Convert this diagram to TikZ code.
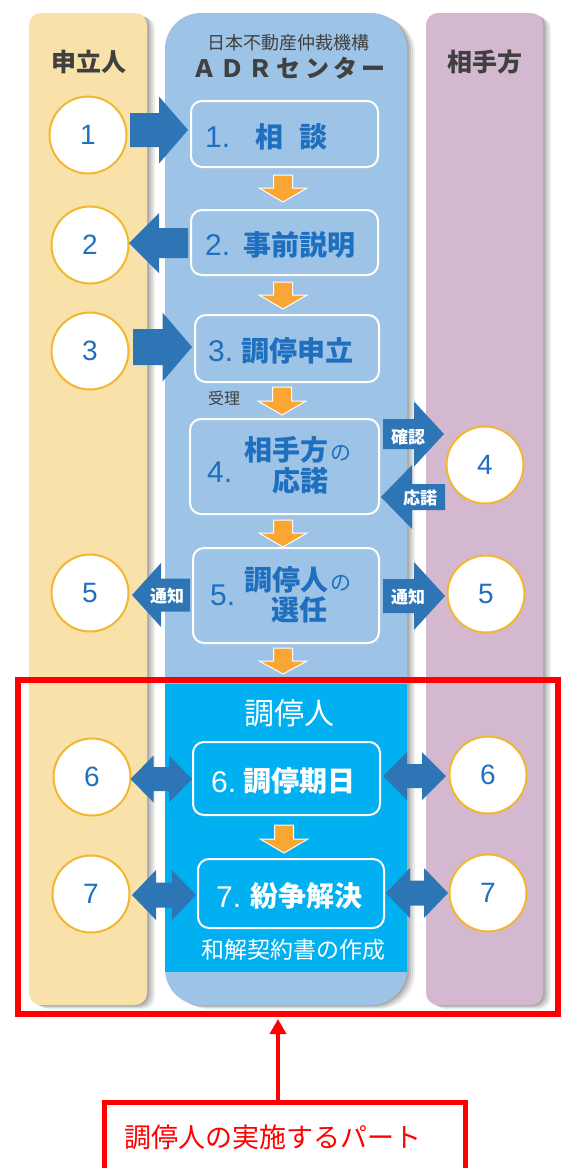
\documentclass[tikz,border=0pt]{standalone}
\usepackage{fontspec}
\setmainfont{Liberation Sans}
\newfontfamily\jp{Noto Sans CJK JP}
\usetikzlibrary{arrows.meta}
\definecolor{colY}{HTML}{F9E2AA}
\definecolor{colB}{HTML}{9DC3E6}
\definecolor{colP}{HTML}{D3B8D0}
\definecolor{colBB}{HTML}{00B0F0}
\definecolor{arrblue}{HTML}{2E75B6}
\definecolor{txtblue}{HTML}{1F6FBF}
\definecolor{numblue}{HTML}{2170C0}
\definecolor{orng}{HTML}{FAA634}
\definecolor{gold}{HTML}{F2B632}
\definecolor{hdrgray}{HTML}{404040}
\tikzset{
  stepbox/.style={draw=white, line width=2pt, rounded corners=11pt, fill=colB, inner sep=0pt},
  circ/.style={circle, draw=gold, line width=2pt, fill=white, minimum size=77pt, inner sep=0pt,
    text=numblue, font=\fontsize{28}{28}\selectfont},
  lbl/.style={inner sep=0pt, text=white, font=\jp\bfseries\fontsize{17}{17}\selectfont},
  ttl/.style={inner sep=0pt, anchor=base west, text=txtblue, font=\jp\bfseries\fontsize{28}{28}\selectfont},
  nol/.style={inner sep=0pt, anchor=base west, text=txtblue, font=\jp\fontsize{21}{21}\selectfont},
  numtxt/.style={inner sep=0pt, anchor=base west, text=txtblue, font=\fontsize{30}{30}\selectfont},
  hdr/.style={inner sep=0pt, text=hdrgray},
}
% block arrow: x0 (tail), x1 (tip), yc, shaft half, head half, head length (signed)
\newcommand\blk[6]{%
  \fill[arrblue] ({#1},{#3-#4}) -- ({#2-#6},{#3-#4}) -- ({#2-#6},{#3-#5}) -- ({#2},{#3})
    -- ({#2-#6},{#3+#5}) -- ({#2-#6},{#3+#4}) -- ({#1},{#3+#4}) -- cycle;}
% double block arrow: x0, x1, yc, shaft half, head half, head length
\newcommand\dblk[6]{%
  \fill[arrblue] ({#1},{#3}) -- ({#1+#6},{#3-#5}) -- ({#1+#6},{#3-#4}) -- ({#2-#6},{#3-#4})
    -- ({#2-#6},{#3-#5}) -- ({#2},{#3}) -- ({#2-#6},{#3+#5}) -- ({#2-#6},{#3+#4})
    -- ({#1+#6},{#3+#4}) -- ({#1+#6},{#3+#5}) -- cycle;}
% orange down arrow: xc, ytop, ybase, ytip
\newcommand\oarr[4]{%
  \filldraw[fill=orng, draw=white, line width=1pt, line join=miter]
    ({#1-9.5},{#2}) -- ({#1+9.5},{#2}) -- ({#1+9.5},{#3}) -- ({#1+24},{#3}) -- ({#1},{#4})
    -- ({#1-24},{#3}) -- ({#1-9.5},{#3}) -- cycle;}
% column with shadow: x0,y0,x1,y1,radius,color
\newcommand\colm[6]{%
  \foreach \s/\o in {8/0.07,6/0.08,4/0.1,2/0.12}{
    \fill[black, opacity=\o, rounded corners=#5pt] ({#1+\s},{#2+0.5*\s}) rectangle ({#3+\s},{#4+0.5*\s});}
  \fill[#6, rounded corners=#5pt] (#1,#2) rectangle (#3,#4);}
\begin{document}
\begin{tikzpicture}[x=1pt,y=-1pt]
\useasboundingbox (0,0) rectangle (560,1168);
\fill[white] (0,0) rectangle (560,1168);

% columns
\colm{29}{13}{147}{1005}{12}{colY}
\colm{165}{13}{407}{1005}{36}{colB}
\colm{426}{13}{543}{1005}{12}{colP}
\fill[colBB] (165,684) rectangle (407,972);

% headers
\node[hdr, font=\jp\bfseries\fontsize{25}{25}\selectfont] (hL) at (89,62) {申立人};
\node[hdr, font=\jp\bfseries\fontsize{25}{25}\selectfont] (hR) at (485,62) {相手方};
\node[hdr, font=\jp\fontsize{18}{18}\selectfont] (hC1) at (288,43) {日本不動産仲裁機構};
\node[hdr, font=\jp\bfseries\fontsize{24}{24}\selectfont] (hC2) at (289,68)
  {\makebox[193pt][s]{Ａ\hfil Ｄ\hfil Ｒ\hfil セ\hfil ン\hfil タ\hfil ー}};

% step boxes
\node[stepbox, minimum width=187pt, minimum height=66pt] (b1) at (284.5,134) {};
\node[stepbox, minimum width=187pt, minimum height=65pt] (b2) at (284.5,242.5) {};
\node[stepbox, minimum width=184pt, minimum height=67pt] (b3) at (287,348.5) {};
\node[stepbox, minimum width=189pt, minimum height=95pt] (b4) at (284.5,466.5) {};
\node[stepbox, minimum width=186pt, minimum height=95pt] (b5) at (286,595.5) {};
\node[stepbox, fill=colBB, minimum width=187pt, minimum height=73pt] (b6) at (286.5,778.5) {};
\node[stepbox, fill=colBB, minimum width=186pt, minimum height=69pt] (b7) at (291,893.5) {};

% box texts
\node[numtxt] (n1) at (205,147) {1.};
\node[ttl] (t1) at (255,147) {相\hspace{16pt}談};
\node[numtxt] (n2) at (205,255) {2.};
\node[ttl] (t2) at (243,255) {事前説明};
\node[numtxt] (n3) at (208,361) {3.};
\node[ttl] (t3) at (241,361) {調停申立};
\node[numtxt] (n4) at (207,482) {4.};
\node[ttl] (t4a) at (244,460) {相手方};
\node[nol] (t4n) at (330,460) {の};
\node[ttl] (t4b) at (272,491) {応諾};
\node[numtxt] (n5) at (210,605) {5.};
\node[ttl] (t5a) at (244,590) {調停人};
\node[nol] (t5n) at (330,590) {の};
\node[ttl] (t5b) at (271,620) {選任};
\node[numtxt, text=white] (n6) at (211,792) {6.};
\node[ttl, text=white] (t6) at (243,791) {調停期日};
\node[numtxt, text=white] (n7) at (216,907) {7.};
\node[ttl, text=white] (t7) at (250,906) {紛争解決};

\node[hdr, font=\jp\fontsize{16}{16}\selectfont] (jr) at (224,398) {受理};
\node[inner sep=0pt, text=white, font=\jp\fontsize{30}{30}\selectfont] (med) at (289,713) {調停人};
\node[inner sep=0pt, text=white, font=\jp\fontsize{23}{23}\selectfont] (wk) at (293,950) {和解契約書の作成};

% orange arrows
\oarr{283}{175}{188}{202}
\oarr{283}{282}{295}{309}
\oarr{282}{387}{401}{415}
\oarr{283}{520}{533}{547}
\oarr{283}{648}{661}{674}
\oarr{284}{825}{839}{853}

% circles
\node[circ] (c1) at (88,135) {1};
\node[circ] (c2) at (90,245) {2};
\node[circ] (c3) at (90,351) {3};
\node[circ] (c5l) at (90,593) {5};
\node[circ] (c6l) at (92,777) {6};
\node[circ] (c7l) at (91,894) {7};
\node[circ] (c4r) at (485,465) {4};
\node[circ] (c5r) at (486,594) {5};
\node[circ] (c6r) at (488,775) {6};
\node[circ] (c7r) at (488,893) {7};

% blue block arrows
\blk{130}{188}{130}{17}{33.5}{29}
\blk{188}{129}{243}{15}{30}{-30}
\blk{133}{192}{347}{18}{34.5}{29.5}
\blk{383}{444}{434}{15}{32.5}{30}
\blk{445}{381}{497}{13}{32}{-31}
\blk{190}{132}{595}{16.5}{32}{-29}
\blk{383}{445}{596}{17}{34}{31}
\dblk{130.5}{192}{779}{12}{23.5}{23}
\dblk{383}{446}{776}{12}{24}{24}
\dblk{132}{196}{895}{12.5}{25}{24}
\dblk{386}{448}{893}{12.5}{25}{24}

\node[lbl] (lk) at (408,437) {確認};
\node[lbl] (lo) at (420,498) {応諾};
\node[lbl] (ltl) at (167,596) {通知};
\node[lbl] (ltr) at (408,597) {通知};

% red frame and note
\node[draw=red, line width=6pt, inner sep=0pt, minimum width=540pt, minimum height=334pt] (frame) at (287.5,847) {};
\node[draw=red, line width=5pt, inner sep=0pt, minimum width=361pt, minimum height=90pt, anchor=north] (note) at (285,1100) {};
\node[inner sep=0pt, text=red, font=\jp\fontsize{27}{27}\selectfont] (notetxt) at (273,1137) {調停人の実施するパート};
\coordinate (atip) at (278,1019);
\draw[red, line width=3.5pt, -{Triangle[width=16pt,length=15pt]}] (note.north -| atip) -- (atip);
\end{tikzpicture}
\end{document}
